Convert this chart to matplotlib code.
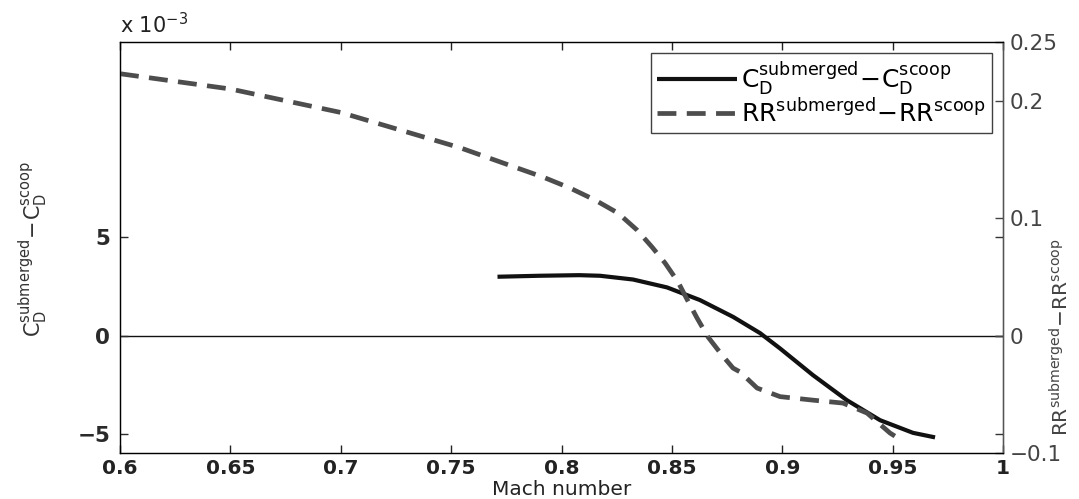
import numpy as np
import matplotlib
matplotlib.use("Agg")
import matplotlib.pyplot as plt

plt.rcParams['font.family'] = ['DejaVu Sans']
plt.rcParams['mathtext.fontset'] = 'dejavusans'

# solid curve: C_D difference, in units of 1e-3 (left axis)
mach_cd = [0.771, 0.79, 0.808, 0.8174, 0.8324, 0.8478, 0.8627, 0.8777, 0.8899,
           0.899, 0.9139, 0.9293, 0.9443, 0.9592, 0.9692]
cd_diff = [2.98, 3.03, 3.06, 3.03, 2.84, 2.44, 1.80, 0.95, 0.13,
           -0.65, -2.0, -3.27, -4.28, -4.92, -5.15]

# dashed curve: range ratio difference (right axis)
mach_rr = [0.6, 0.65, 0.70, 0.754, 0.778, 0.7916, 0.8039, 0.8152, 0.8256, 0.8342,
           0.841, 0.8469, 0.8528, 0.8568, 0.8614, 0.8664, 0.8727, 0.8777, 0.8809,
           0.8886, 0.899, 0.9139, 0.9275, 0.9384, 0.9488, 0.951]
rr_diff = [0.223, 0.210, 0.190, 0.160, 0.144, 0.135, 0.1256, 0.1154, 0.1043, 0.0899,
           0.0754, 0.0618, 0.0456, 0.0311, 0.0149, -0.0013, -0.0166, -0.0277, -0.031,
           -0.0447, -0.052, -0.055, -0.0575, -0.066, -0.083, -0.0856]

x_ticks = [0.6, 0.65, 0.7, 0.75, 0.8, 0.85, 0.9, 0.95, 1.0]
x_ticklabels = ['0.6', '0.65', '0.7', '0.75', '0.8', '0.85', '0.9', '0.95', '1']
left_ticks = [-5, 0, 5]
left_ticklabels = ['\u22125', '0', '5']
right_ticks = [-0.1, 0, 0.1, 0.2, 0.25]
right_ticklabels = ['\u22120.1', '0', '0.1', '0.2', '0.25']

fig = plt.figure(figsize=(10.79, 4.99), dpi=100)
ax = fig.add_axes([0.1112, 0.0922, 0.8184, 0.8236])
ax2 = ax.twinx()

ax.set_xlim(0.6, 1.0)
ax.set_ylim(-5.94, 14.86)
ax2.set_ylim(-0.1, 0.25)

ax.axhline(0, color='#111111', lw=1.0, zorder=1)

l1, = ax.plot(mach_cd, cd_diff, color='#111111', lw=3.0, solid_capstyle='butt',
              label=r'$\mathrm{C_D^{submerged}\!-\!C_D^{scoop}}$')
l2, = ax2.plot(mach_rr, rr_diff, color='#4d4d4d', lw=3.4, ls='--', dashes=(4.0, 2.2),
               label=r'$\mathrm{RR^{submerged}\!-\!RR^{scoop}}$')

ax.set_xticks(x_ticks)
ax.set_xticklabels(x_ticklabels, fontweight='bold')
ax.set_yticks(left_ticks)
ax.set_yticklabels(left_ticklabels, fontweight='bold')
ax2.set_yticks(right_ticks)
ax2.set_yticklabels(right_ticklabels)

ax.tick_params(axis='x', direction='in', length=6, width=1, labelsize=14.5,
               top=True, pad=4, colors='#222222')
ax.tick_params(axis='y', direction='in', length=6, width=1, labelsize=15.5,
               right=False, pad=7, colors='#2a2a2a')
ax2.tick_params(axis='y', direction='in', length=6, width=1, labelsize=15.5,
                pad=5, colors='#444444')
# left ticks mirrored on the right side, like the matlab box
ax3 = ax.secondary_yaxis('right')
ax3.set_yticks(left_ticks)
ax3.set_yticklabels([])
ax3.tick_params(direction='in', length=6, width=1, color='#333333')
ax3.spines['right'].set_visible(False)

for s in ax.spines.values():
    s.set_color('#222222')
    s.set_linewidth(1.0)
ax2.spines['right'].set_color('#555555')

ax.set_xlabel('Mach number', fontsize=14.5, color='#222222', va='bottom')
ax.xaxis.set_label_coords(0.5, -0.111)
fig.text(0.031, 0.50, r'$\mathrm{C_D^{submerged}\!-\!C_D^{scoop}}$', rotation=90,
         ha='center', va='center', fontsize=15, color='#333333')
fig.text(0.983, 0.325, r'$\mathrm{RR^{submerged}\!-\!RR^{scoop}}$', rotation=90,
         ha='center', va='center', fontsize=14.5, color='#444444')
fig.text(0.111, 0.925, r'x 10$^{-3}$', fontsize=15, color='#222222',
         ha='left', va='bottom')

leg = ax.legend(handles=[l1, l2], loc='upper right', fontsize=18, frameon=True,
                fancybox=False, handlelength=3.2, borderaxespad=0.45,
                handletextpad=0.15, labelspacing=0.05, borderpad=0.25)
leg.get_frame().set_edgecolor('#111111')
leg.get_frame().set_linewidth(1.0)
leg.set_zorder(5)

fig.savefig('out.png', dpi=100)
